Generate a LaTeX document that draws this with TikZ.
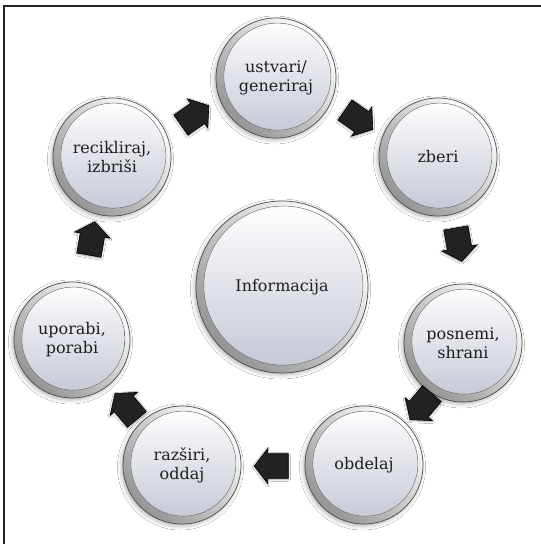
\documentclass[tikz,border=0pt]{standalone}
\usepackage{fontspec}
\setmainfont{DejaVu Serif}
\usetikzlibrary{shapes.arrows,shadows.blur}
\definecolor{discbot}{HTML}{C3C6D4}
\definecolor{txt}{HTML}{1E1E1E}
\definecolor{arrowfill}{HTML}{222222}
\tikzset{
  bubble/.style={circle, minimum size=#1, inner sep=0pt, align=center, text=txt,
    font=\fontsize{16}{19}\selectfont,
    blur shadow={shadow xshift=-1.5pt, shadow yshift=-2pt, shadow blur radius=4pt, shadow opacity=30},
    draw=black!70, line width=0.7pt,
    top color=white, bottom color=black!42, shading angle=-45,
    path picture={\fill[top color=white, bottom color=discbot, draw=black!50, line width=0.4pt]
      ([shift={(1.4pt,1.4pt)}]path picture bounding box.center) circle[radius=#1/2-6.5pt];}},
  blockarrow/.style={single arrow, minimum height=34pt, inner xsep=0pt, inner ysep=12pt,
    single arrow head extend=5.5pt, single arrow tip angle=105,
    fill=arrowfill, draw=black, line width=0.6pt, rotate=#1,
    blur shadow={shadow xshift=0pt, shadow yshift=-1pt, shadow blur radius=2pt, shadow opacity=40}},
  frameline/.style={line width=1.1pt, draw=black!85}
}
\begin{document}
\begin{tikzpicture}[x=1pt,y=-1pt]
\useasboundingbox (0,0) rectangle (541,544);
\fill[white] (0,0) rectangle (541,544);
\coordinate (fbl) at (4,544);
\coordinate (ftl) at (4,6);
\coordinate (ftr) at (541,6);
\draw[frameline] (fbl) -- (ftl) -- (ftr);

\node[bubble=172pt] (info) at (282,287) {Informacija};
\node[bubble=120pt] (ustvari) at (276,78) {ustvari/\\generiraj};
\node[bubble=118pt] (zberi) at (438,157) {zberi};
\node[bubble=118pt] (posnemi) at (463,343) {posnemi,\\shrani};
\node[bubble=118pt] (obdelaj) at (364,465) {obdelaj};
\node[bubble=118pt] (razsiri) at (182,465) {razširi,\\oddaj};
\node[bubble=116pt] (uporabi) at (72,340) {uporabi,\\porabi};
\node[bubble=118pt] (reciklira) at (112,157) {recikliraj,\\izbriši};

\node[blockarrow=35] (a1) at (191,118) {};
\node[blockarrow=-35] (a2) at (355,117) {};
\node[blockarrow=-80] (a3) at (458,240) {};
\node[blockarrow=-130] (a4) at (424,403) {};
\node[blockarrow=180] (a5) at (276,466) {};
\node[blockarrow=130] (a6) at (129,410) {};
\node[blockarrow=80] (a7) at (91,243) {};
\end{tikzpicture}
\end{document}
